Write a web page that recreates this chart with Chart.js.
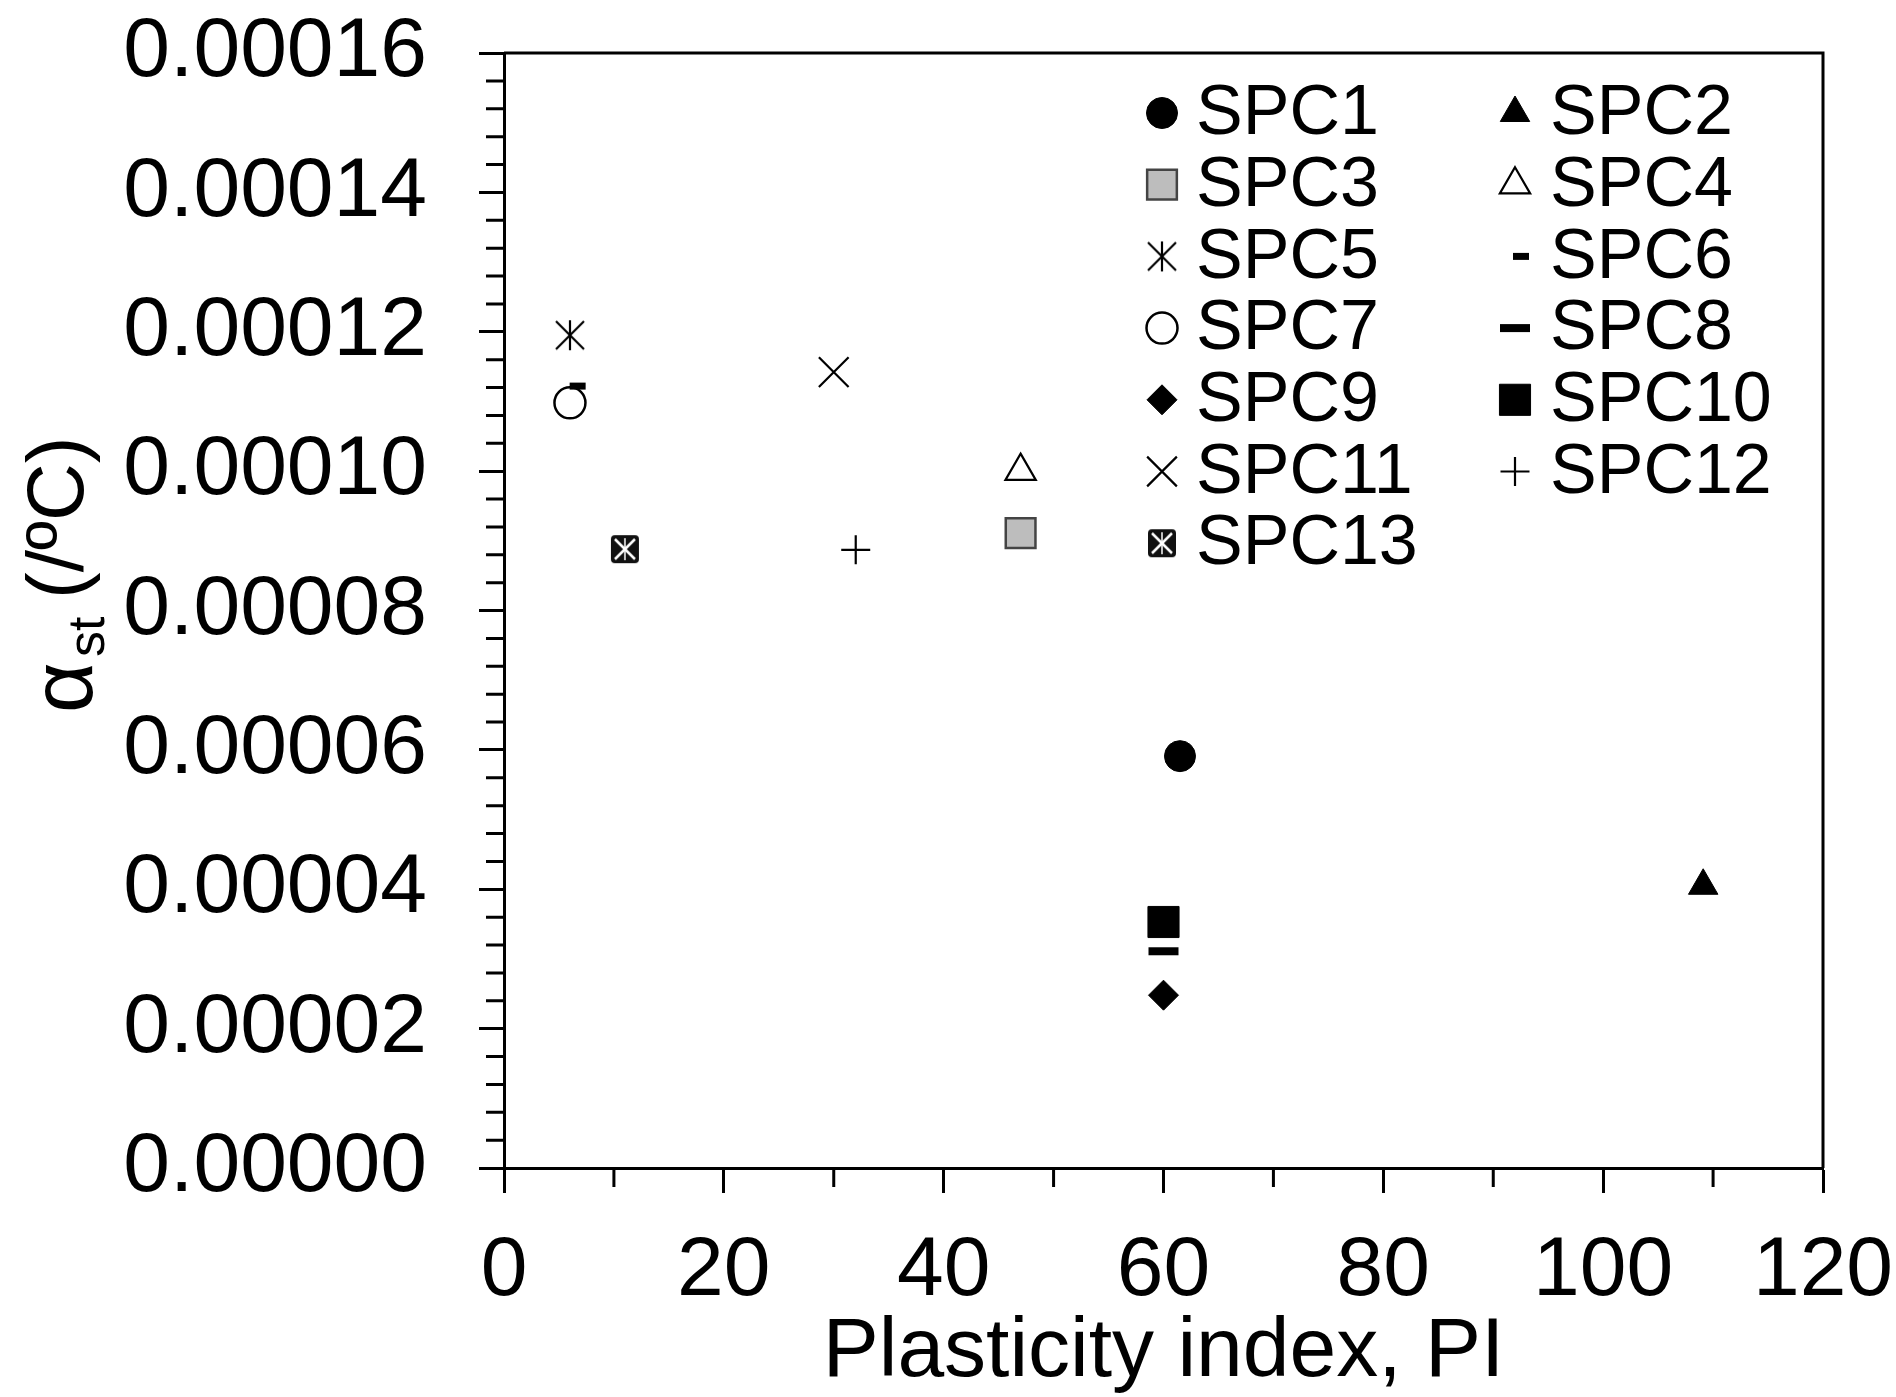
<!DOCTYPE html>
<html>
<head>
<meta charset="utf-8">
<title>Thermal expansion vs plasticity index</title>
<script src="https://cdn.jsdelivr.net/npm/chart.js@4/dist/chart.umd.min.js"></script>
<style>
  html, body { margin: 0; padding: 0; background: #fff; }
  canvas { display: block; }
</style>
</head>
<body>
<canvas id="pi-chart" width="1896" height="1397"></canvas>
<script>
// data
const seriesNames = ["SPC1", "SPC2", "SPC3", "SPC4", "SPC5", "SPC6", "SPC7", "SPC8", "SPC9", "SPC10", "SPC11", "SPC12", "SPC13"];
const plasticityIndex = [61.5, 109.1, 47.0, 47.0, 6.0, 6.7, 6.0, 60.0, 60.0, 60.0, 30.0, 32.0, 11.0];
const alphaSt = [0.0000591, 0.0000405, 0.0000911, 0.0001000, 0.0001195, 0.0001122, 0.0001098, 0.0000311, 0.0000248, 0.0000353, 0.0001142, 0.0000887, 0.0000888];

const xMajorTicks = [0, 20, 40, 60, 80, 100, 120];
const yMajorTicks = [0, 0.00002, 0.00004, 0.00006, 0.00008, 0.0001, 0.00012, 0.00014, 0.00016];

const FONT = "'Liberation Sans', Arial, sans-serif";

// custom marker: vertical line + X (6 arm asterisk)
function makeAsterisk() {
    const c = document.createElement("canvas");
    c.width = 34; c.height = 34;
    const g = c.getContext("2d");
    g.strokeStyle = "#000";
    g.lineWidth = 2.2;
    g.beginPath();
    g.moveTo(17, 2); g.lineTo(17, 32);
    g.moveTo(3, 3); g.lineTo(31, 31);
    g.moveTo(31, 3); g.lineTo(3, 31);
    g.stroke();
    return c;
}

// custom marker: dark box with white X
function makeBoxX() {
    const c = document.createElement("canvas");
    c.width = 32; c.height = 32;
    const g = c.getContext("2d");
    g.fillStyle = "#111";
    g.beginPath();
    g.roundRect(2, 2, 28, 28, 4);
    g.fill();
    g.strokeStyle = "#fff";
    g.lineWidth = 2.5;
    g.beginPath();
    g.moveTo(6, 6); g.lineTo(26, 26);
    g.moveTo(26, 6); g.lineTo(6, 26);
    g.stroke();
    g.lineWidth = 1.5;
    g.beginPath();
    g.moveTo(16, 5); g.lineTo(16, 27);
    g.stroke();
    return c;
}

const markerStyles = [
    { pointStyle: "circle",   radius: 15.5, bg: "#000", border: "#000", bw: 1 },
    { pointStyle: "triangle", radius: 17,   bg: "#000", border: "#000", bw: 1 },
    { pointStyle: "rect",     radius: 21,   bg: "#bdbdbd", border: "#444", bw: 2.5 },
    { pointStyle: "triangle", radius: 17.5, bg: "#fff", border: "#000", bw: 2.2 },
    { pointStyle: makeAsterisk(), radius: 15, bg: "#000", border: "#000", bw: 0 },
    { pointStyle: "line",     radius: 8,    bg: "#000", border: "#000", bw: 7 },
    { pointStyle: "circle",   radius: 15.5, bg: "#fff", border: "#000", bw: 2.5 },
    { pointStyle: "line",     radius: 15,   bg: "#000", border: "#000", bw: 8 },
    { pointStyle: "rectRot",  radius: 15,   bg: "#000", border: "#000", bw: 1 },
    { pointStyle: "rect",     radius: 22,   bg: "#000", border: "#000", bw: 1 },
    { pointStyle: "crossRot", radius: 21,   bg: "#000", border: "#000", bw: 2.2 },
    { pointStyle: "cross",    radius: 14.5, bg: "#000", border: "#000", bw: 2.2 },
    { pointStyle: makeBoxX(), radius: 15,   bg: "#000", border: "#000", bw: 0 }
];

const datasets = seriesNames.map((name, i) => ({
    label: name,
    data: [{ x: plasticityIndex[i], y: alphaSt[i] }],
    showLine: false,
    pointStyle: markerStyles[i].pointStyle,
    pointRadius: markerStyles[i].radius,
    pointHoverRadius: markerStyles[i].radius,
    pointBackgroundColor: markerStyles[i].bg,
    pointBorderColor: markerStyles[i].border,
    pointBorderWidth: markerStyles[i].bw
}));

function isMajor(list, v) {
    return list.some(m => Math.abs(m - v) < 1e-9);
}

// minor ticks, top/right frame, legend and y title
const extras = {
    id: "extras",
    afterDraw(chart) {
        const { ctx, chartArea, scales: { x, y } } = chart;
        ctx.save();
        ctx.strokeStyle = "#000";
        ctx.lineWidth = 3;
        ctx.beginPath();
        y.ticks.forEach((t, i) => {
            if (!isMajor(yMajorTicks, t.value)) {
                const py = y.getPixelForTick(i);
                ctx.moveTo(chartArea.left - 18, py);
                ctx.lineTo(chartArea.left, py);
            }
        });
        x.ticks.forEach((t, i) => {
            if (!isMajor(xMajorTicks, t.value)) {
                const px = x.getPixelForTick(i);
                ctx.moveTo(px, chartArea.bottom);
                ctx.lineTo(px, chartArea.bottom + 19);
            }
        });
        ctx.moveTo(chartArea.left, chartArea.top);
        ctx.lineTo(chartArea.right, chartArea.top);
        ctx.lineTo(chartArea.right, chartArea.bottom);
        ctx.stroke();

        // legend, two columns, row major
        ctx.font = "70px " + FONT;
        ctx.textBaseline = "middle";
        ctx.textAlign = "left";
        seriesNames.forEach((name, i) => {
            const col = i % 2;
            const row = Math.floor(i / 2);
            const cy = 113 + row * 71.7;
            const mx = col ? 1515 : 1162;
            const tx = col ? 1550 : 1196;
            const m = markerStyles[i];
            ctx.fillStyle = m.bg;
            ctx.strokeStyle = m.border;
            ctx.lineWidth = m.bw;
            Chart.helpers.drawPoint(ctx, { pointStyle: m.pointStyle, radius: m.radius, rotation: 0, borderWidth: m.bw }, mx + (i === 5 ? 6 : 0), cy);
            ctx.fillStyle = "#000";
            ctx.fillText(name, tx, cy + 2);
        });

        // y axis title with subscript
        ctx.translate(0, 713);
        ctx.rotate(-Math.PI / 2);
        ctx.fillStyle = "#000";
        ctx.textBaseline = "alphabetic";
        ctx.font = "88px " + FONT;
        ctx.fillText("α", 0, 92);
        ctx.font = "52px " + FONT;
        ctx.fillText("st", 56, 104);
        ctx.font = "80px " + FONT;
        ctx.fillText("(/ºC)", 114, 83);
        ctx.restore();
    }
};

new Chart(document.getElementById("pi-chart"), {
    type: "scatter",
    data: { datasets: datasets },
    options: {
        responsive: false,
        animation: false,
        layout: { padding: { left: 120, top: 53, right: 73, bottom: 0 } },
        plugins: {
            legend: { display: false },
            tooltip: { enabled: false }
        },
        scales: {
            x: {
                type: "linear",
                min: 0,
                max: 120,
                afterFit: s => {
                    s.height = 1397 - 1168;
                    s.paddingLeft = 0;
                    s.paddingRight = 0;
                },
                ticks: {
                    stepSize: 10,
                    autoSkip: false,
                    maxRotation: 0,
                    padding: 28,
                    color: "#000",
                    font: { size: 84, family: FONT },
                    callback: v => isMajor(xMajorTicks, v) ? String(v) : ""
                },
                grid: {
                    drawOnChartArea: false,
                    tickLength: 25,
                    tickWidth: 3,
                    tickColor: c => (c.tick && isMajor(xMajorTicks, c.tick.value)) ? "#000" : "rgba(0,0,0,0)"
                },
                border: { color: "#000", width: 3 },
                title: {
                    display: true,
                    text: "Plasticity index, PI",
                    color: "#000",
                    font: { size: 84, family: FONT, lineHeight: 1 },
                    padding: { top: 0, bottom: 2 }
                }
            },
            y: {
                type: "linear",
                min: 0,
                max: 0.00016,
                afterFit: s => {
                    s.width = 504 - 120;
                    s.paddingTop = 0;
                    s.paddingBottom = 0;
                },
                ticks: {
                    stepSize: 0.000004,
                    autoSkip: false,
                    padding: 52,
                    color: "#000",
                    font: { size: 84, family: FONT },
                    callback: v => isMajor(yMajorTicks, v) ? v.toFixed(5) : ""
                },
                grid: {
                    drawOnChartArea: false,
                    tickLength: 25,
                    tickWidth: 3,
                    tickColor: c => (c.tick && isMajor(yMajorTicks, c.tick.value)) ? "#000" : "rgba(0,0,0,0)"
                },
                border: { color: "#000", width: 3 }
            }
        }
    },
    plugins: [extras]
});
</script>
</body>
</html>
